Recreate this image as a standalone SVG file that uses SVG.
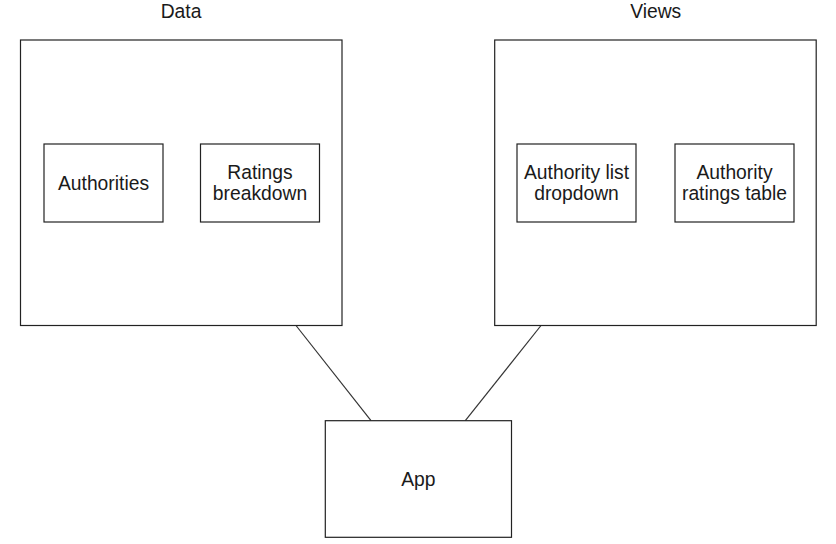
<svg xmlns="http://www.w3.org/2000/svg" width="836" height="544" viewBox="0 0 836 544">
<style>
rect{fill:#fff;stroke:#222;stroke-width:1.2}
text{font-family:"Liberation Sans",Arial,sans-serif;font-size:19.3px;fill:#1a1a1a;text-anchor:middle}
line{stroke:#333;stroke-width:1.2}
</style>
<rect x="0" y="0" width="836" height="544" style="stroke:none"/>
<g id="connectors">
<line x1="296" y1="325.5" x2="371" y2="420.7"/>
<line x1="541" y1="325.5" x2="465.3" y2="420.7"/>
</g>
<g id="data">
<rect x="20.5" y="40" width="321.5" height="285.5"/>
<text x="181" y="18">Data</text>
</g>
<g id="views">
<rect x="494.7" y="40" width="321.5" height="285.5"/>
<text x="655.7" y="18">Views</text>
</g>
<g id="authorities">
<rect x="44" y="144" width="119" height="78"/>
<text x="103.5" y="190">Authorities</text>
</g>
<g id="ratings-breakdown">
<rect x="200.5" y="144" width="119" height="78"/>
<text x="260" y="179">Ratings</text>
<text x="260" y="200">breakdown</text>
</g>
<g id="authority-list-dropdown">
<rect x="517" y="144" width="119" height="78"/>
<text x="576.5" y="179">Authority list</text>
<text x="576.5" y="200">dropdown</text>
</g>
<g id="authority-ratings-table">
<rect x="675" y="144" width="119" height="78"/>
<text x="734.5" y="179">Authority</text>
<text x="734.5" y="200">ratings table</text>
</g>
<g id="app">
<rect x="325.3" y="420.7" width="186.2" height="116.6"/>
<text x="418.4" y="486">App</text>
</g>
</svg>
